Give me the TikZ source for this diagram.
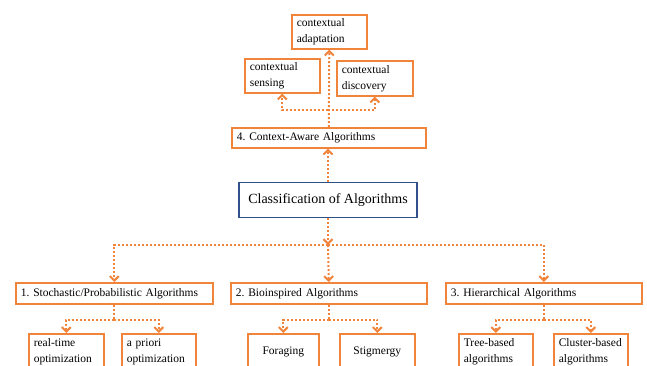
\documentclass[tikz,border=0pt]{standalone}
\usepackage{fontspec}
\setmainfont{Liberation Serif}
\usetikzlibrary{arrows.meta}
\definecolor{algorange}{RGB}{240,132,58}
\definecolor{algblue}{RGB}{47,82,143}
\tikzset{
  box/.style={draw=algorange,line width=1.6pt,anchor=north west,inner xsep=5pt,inner ysep=0pt,
    align=left,font=\fontsize{11.5}{16}\selectfont},
  dotline/.style={algorange,line width=2pt,dash pattern=on 2pt off 2pt},
  link/.style={dotline,-{Straight Barb[length=4.5pt,width=9pt]}},
}
\frenchspacing
\begin{document}
\begin{tikzpicture}[x=1pt,y=-1pt]
\useasboundingbox (0,0) rectangle (647,365);
\fill[white] (0,0) rectangle (647,365);
\clip (0,0) rectangle (647,365);
% context-aware branch
\node[box,text width=65pt,minimum height=34pt] (adapt) at (291,14) {contextual\\adaptation};
\node[box,text width=65pt,minimum height=34pt] (sens) at (244,58) {contextual\\sensing};
\node[box,text width=66pt,minimum height=35pt] (disc) at (336,60) {contextual\\discovery};
\node[box,text width=184pt,minimum height=20pt] (ctx) at (231,127) {4. Context-Aware Algorithms};
% root
\node[draw=algblue,line width=1.6pt,minimum width=178pt,minimum height=35pt,
  font=\fontsize{14}{16}\selectfont] (cls) at (328,200) {Classification of Algorithms};
% main classes
\node[box,text width=187pt,minimum height=21pt] (stoch) at (15,282) {1. Stochastic/Probabilistic Algorithms};
\node[box,text width=186pt,minimum height=21pt] (bio) at (230,282) {2. Bioinspired Algorithms};
\node[box,text width=186pt,minimum height=21pt] (hier) at (445,282) {3. Hierarchical Algorithms};
% leaves
\node[box,text width=65pt,minimum height=36pt] (rtime) at (28,333) {real-time\\optimization};
\node[box,text width=64pt,minimum height=36pt] (prior) at (121,333) {a priori\\optimization};
\node[box,text width=61pt,minimum height=36pt,align=center] (forag) at (247,333) {Foraging};
\node[box,text width=65pt,minimum height=36pt,align=center] (stigm) at (339,333) {Stigmergy};
\node[box,text width=64pt,minimum height=36pt] (tree) at (458,333) {Tree-based\\algorithms};
\node[box,text width=64pt,minimum height=36pt] (clust) at (553,333) {Cluster-based\\algorithms};
% hubs
\coordinate (tophub) at (328,110);
\coordinate (midhub) at (328,245);
\path (stoch.south) ++(0,15) coordinate (hubA);
\path (bio.south) ++(0,15) coordinate (hubB);
\path (hier.south) ++(0,15) coordinate (hubC);
% connectors
\draw[link] (cls.north) -- (cls.north |- ctx.south);
\draw[link] (ctx.north) -- (adapt.south);
\draw[link] (tophub) -| (sens.south);
\draw[link] (tophub) -| (disc.south);
\draw[link] (cls.south) -- (midhub);
\draw[link] (midhub) -| (stoch.north);
\draw[link] (midhub) -- (bio.north);
\draw[link] (midhub) -| (hier.north);
\draw[dotline] (stoch.south) -- (hubA);
\draw[link] (hubA) -| (rtime.north);
\draw[link] (hubA) -| (prior.north);
\draw[dotline] (bio.south) -- (hubB);
\draw[link] (hubB) -| (forag.north);
\draw[link] (hubB) -| (stigm.north);
\draw[dotline] (hier.south) -- (hubC);
\draw[link] (hubC) -| (tree.north);
\draw[link] (hubC) -| (clust.north);
\end{tikzpicture}
\end{document}
